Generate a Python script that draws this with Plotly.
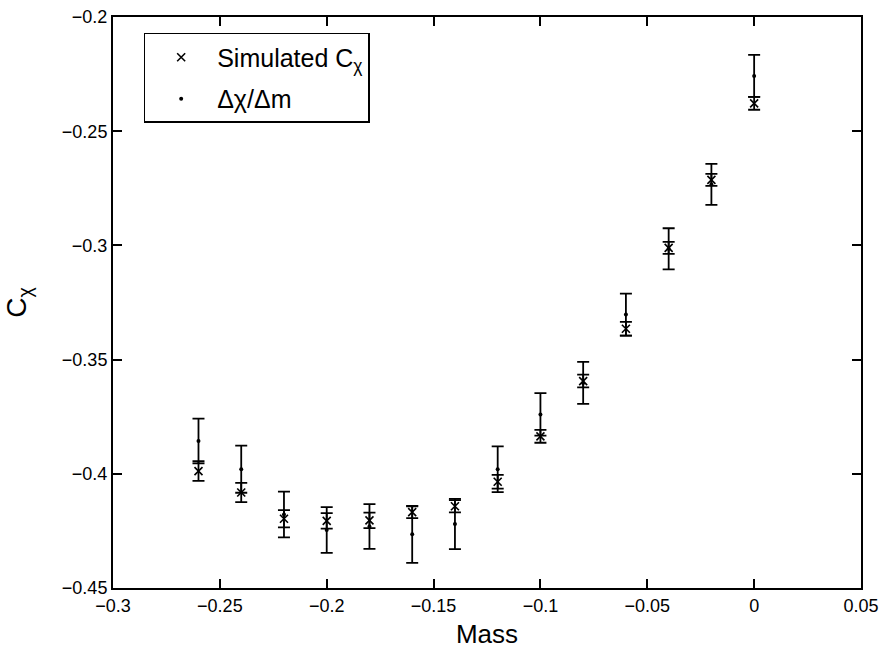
import plotly.graph_objects as go

mass = [-0.26, -0.24, -0.22, -0.20, -0.18, -0.16, -0.14, -0.12, -0.10, -0.08, -0.06, -0.04, -0.02, 0.0]
sim_c = [-0.3988, -0.4082, -0.4197, -0.4206, -0.4204, -0.4168, -0.4142, -0.4035, -0.3836, -0.3594, -0.3365, -0.3011, -0.2713, -0.2378]
sim_err = [0.0043, 0.0042, 0.0038, 0.0034, 0.0034, 0.0026, 0.0027, 0.0030, 0.0028, 0.0028, 0.0030, 0.0026, 0.0026, 0.0028]
dchi = [-0.3856, -0.3980, -0.4178, -0.4246, -0.4231, -0.4265, -0.4220, -0.3980, -0.3740, -0.3602, -0.3303, -0.3015, -0.2733, -0.2258]
dchi_err = [0.0098, 0.0103, 0.0100, 0.0100, 0.0098, 0.0125, 0.0110, 0.0100, 0.0093, 0.0092, 0.0092, 0.0090, 0.0090, 0.0092]

x_ticks = [-0.3, -0.25, -0.2, -0.15, -0.1, -0.05, 0, 0.05]
x_tick_text = ["−0.3", "−0.25", "−0.2", "−0.15", "−0.1", "−0.05", "0", "0.05"]
y_ticks = [-0.45, -0.4, -0.35, -0.3, -0.25, -0.2]
y_tick_text = ["−0.45", "−0.4", "−0.35", "−0.3", "−0.25", "−0.2"]

FONT = "Liberation Sans, Arial, Helvetica, sans-serif"

fig = go.Figure()
fig.add_trace(go.Scatter(
    x=mass, y=sim_c, mode="markers", name="Simulated C<sub>χ</sub>", legendgroup="a",
    marker=dict(symbol="x-thin", size=8, color="black", line=dict(width=1.6, color="black")),
    error_y=dict(type="data", array=sim_err, visible=True, color="black", thickness=1.8, width=6),
))
fig.add_trace(go.Scatter(
    x=mass, y=dchi, mode="markers", name="Δχ/Δm", legendgroup="b",
    marker=dict(symbol="circle", size=4, color="black"),
    error_y=dict(type="data", array=dchi_err, visible=True, color="black", thickness=1.8, width=6),
))

axis_common = dict(
    showgrid=False, zeroline=False, showline=True, linecolor="black", linewidth=2,
    mirror="ticks", ticks="inside", ticklen=9, tickwidth=1.5, tickcolor="black",
    tickfont=dict(family=FONT, size=18, color="black"),
    ticklabeloverflow="allow",
)
fig.update_xaxes(range=[-0.3, 0.05], tickvals=x_ticks, ticktext=x_tick_text,
                 title=dict(text="Mass", font=dict(family=FONT, size=26, color="black"), standoff=10),
                 **axis_common)
fig.update_yaxes(range=[-0.45, -0.2], tickvals=y_ticks, ticktext=y_tick_text,
                 title=dict(text="C<sub>χ</sub>", font=dict(family=FONT, size=28, color="black"), standoff=27),
                 **axis_common)

fig.update_layout(
    width=886, height=651,
    margin=dict(l=113, r=24, t=7, b=62),
    plot_bgcolor="white", paper_bgcolor="white",
    font=dict(family=FONT, color="black"),
    legend=dict(x=0.041, y=0.972, xanchor="left", yanchor="top",
                bordercolor="black", borderwidth=1.5, bgcolor="white",
                itemwidth=62, tracegroupgap=6,
                font=dict(family=FONT, size=25, color="black")),
)

fig.write_html("out.html")
